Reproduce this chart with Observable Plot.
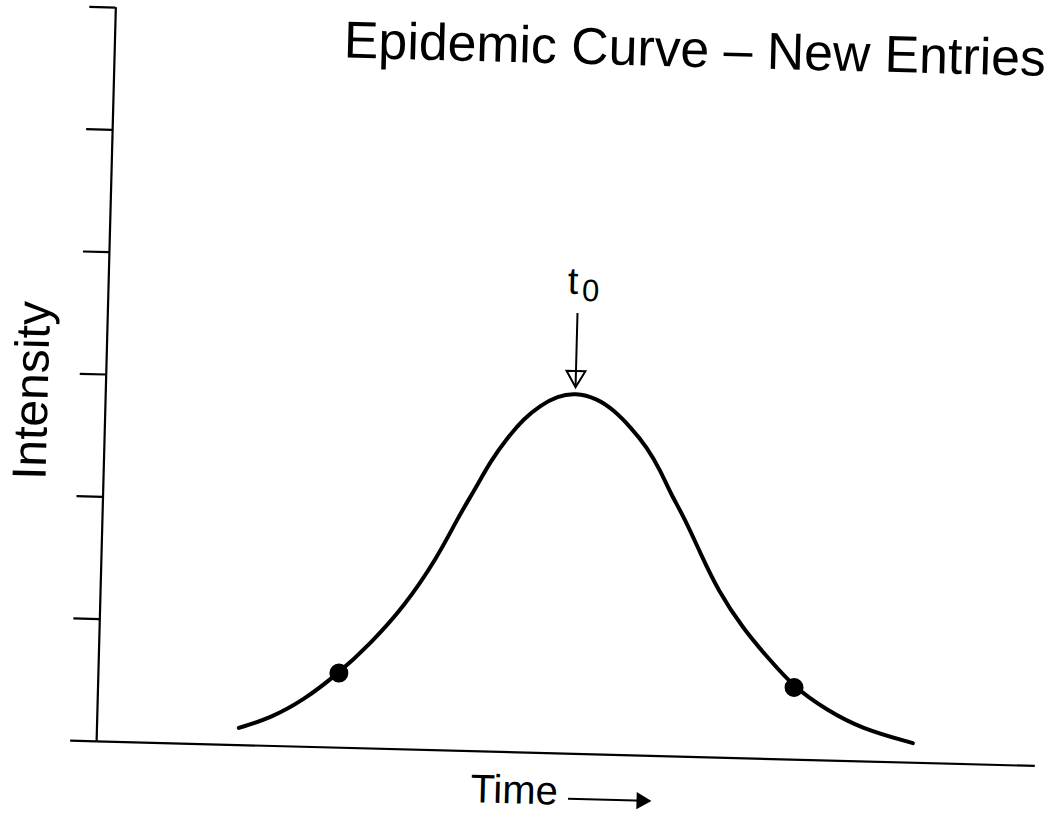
<!DOCTYPE html>
<html>
<head>
<meta charset="utf-8">
<script src="https://cdn.jsdelivr.net/npm/d3@7"></script>
<script src="https://cdn.jsdelivr.net/npm/@observablehq/plot@0.6"></script>
<style>
  html, body { margin: 0; padding: 0; overflow: hidden; background: #fff; }
  #chart svg { display: block; transform: rotate(1.5deg); transform-origin: 526px 407.5px; }
</style>
</head>
<body>
<div id="chart"></div>
<script>
// ---- text ----
const title = "Epidemic Curve – New Entries";
const xLabel = "Time";
const yLabel = "Intensity";
const peakLabel = "t";
const peakSub = "0";

// ---- curve values (time units, intensity units) ----
const curveTime = [1.51, 1.85, 2.19, 2.56, 2.89, 3.23, 3.58, 3.78, 3.95, 4.12, 4.29, 4.46, 4.63, 4.81, 5.00,
                   5.23, 5.41, 5.60, 5.78, 5.93, 6.04, 6.19, 6.38, 6.57, 6.86, 7.12, 7.41, 7.77, 8.13, 8.69];
const curveIntensity = [0.14, 0.23, 0.38, 0.61, 0.86, 1.16, 1.58, 1.90, 2.13, 2.38, 2.57, 2.73, 2.84, 2.92, 2.95,
                        2.91, 2.82, 2.68, 2.52, 2.33, 2.15, 1.96, 1.66, 1.37, 1.05, 0.83, 0.59, 0.41, 0.27, 0.16];

// ---- marked points ----
const markerTime = [2.56, 7.41];
const markerIntensity = [0.61, 0.59];

// ---- peak (t0) ----
const peakTime = 5.00;
const peakIntensity = 2.95;

// ---- axes ----
const xDomain = [0, 10];
const yDomain = [0, 6];
const yTicks = [0, 1, 2, 3, 4, 5, 6];
const timeArrowStart = [5.04];
const timeArrowEnd = [5.86];

const curve = curveTime.map((t, i) => ({t, v: curveIntensity[i]}));
const markers = markerTime.map((t, i) => ({t, v: markerIntensity[i]}));
const peak = [{t: peakTime, v: peakIntensity}];

const chart = Plot.plot({
  width: 1052,
  height: 815,
  marginLeft: 105,
  marginRight: 8,
  marginTop: 18,
  marginBottom: 63,
  style: {fontFamily: "'Liberation Sans', Arial, sans-serif", color: "#000", background: "#fff"},
  x: {domain: xDomain, axis: null},
  y: {domain: yDomain, axis: null},
  marks: [
    // y ticks (no labels)
    Plot.axisY({ticks: yTicks, tickSize: 26, tickFormat: () => "", label: null, strokeWidth: 2.2}),
    // axis lines
    Plot.ruleX([xDomain[0]], {y1: yDomain[0], y2: yDomain[1], strokeWidth: 2.2}),
    Plot.ruleY([yDomain[0]], {strokeWidth: 2.2}),
    // epidemic curve
    Plot.line(curve, {x: "t", y: "v", curve: "basis", strokeWidth: 4, stroke: "#000"}),
    Plot.dot(markers, {x: "t", y: "v", r: 9.5, fill: "#000", stroke: "none"}),
    // t0 arrow
    Plot.ruleX(peak, {x: "t", y1: d => d.v + 0.045, y2: d => d.v + 0.65, strokeWidth: 2}),
    Plot.dot(peak, {x: "t", y: d => d.v + 0.045, dy: -11, symbol: "triangle", rotate: 180, r: 7,
                    fill: "none", stroke: "#000", strokeWidth: 2}),
    Plot.text(peak, {x: "t", y: "v", text: () => peakLabel, dx: -10.5, dy: -99, fontSize: 38,
                     textAnchor: "start", lineAnchor: "bottom"}),
    Plot.text(peak, {x: "t", y: "v", text: () => peakSub, dx: 4, dy: -92, fontSize: 31,
                     textAnchor: "start", lineAnchor: "bottom"}),
    // title
    Plot.text([title], {frameAnchor: "top-left", dx: 229, dy: 44, fontSize: 52,
                        textAnchor: "start", lineAnchor: "bottom"}),
    // y label
    Plot.text([yLabel], {frameAnchor: "left", dx: -58, dy: 18, rotate: -90, fontSize: 48,
                         textAnchor: "middle", lineAnchor: "bottom"}),
    // x label with arrow
    Plot.text([xLabel], {frameAnchor: "bottom-left", dx: 375, dy: 51, fontSize: 40,
                         textAnchor: "start", lineAnchor: "bottom"}),
    Plot.ruleY([yDomain[0]], {x1: () => timeArrowStart[0], x2: () => timeArrowEnd[0], dy: 45, strokeWidth: 2}),
    Plot.dot([yDomain[0]], {x: () => timeArrowEnd[0], y: d => d, dx: -4, dy: 45, symbol: "triangle", rotate: 90,
                            r: 6.4, fill: "#000", stroke: "none"})
  ]
});

d3.select(chart).selectAll("text")
  .filter(function () { return this.textContent === title; })
  .attr("textLength", 702)
  .attr("lengthAdjust", "spacingAndGlyphs");

document.getElementById("chart").appendChild(chart);
</script>
</body>
</html>
